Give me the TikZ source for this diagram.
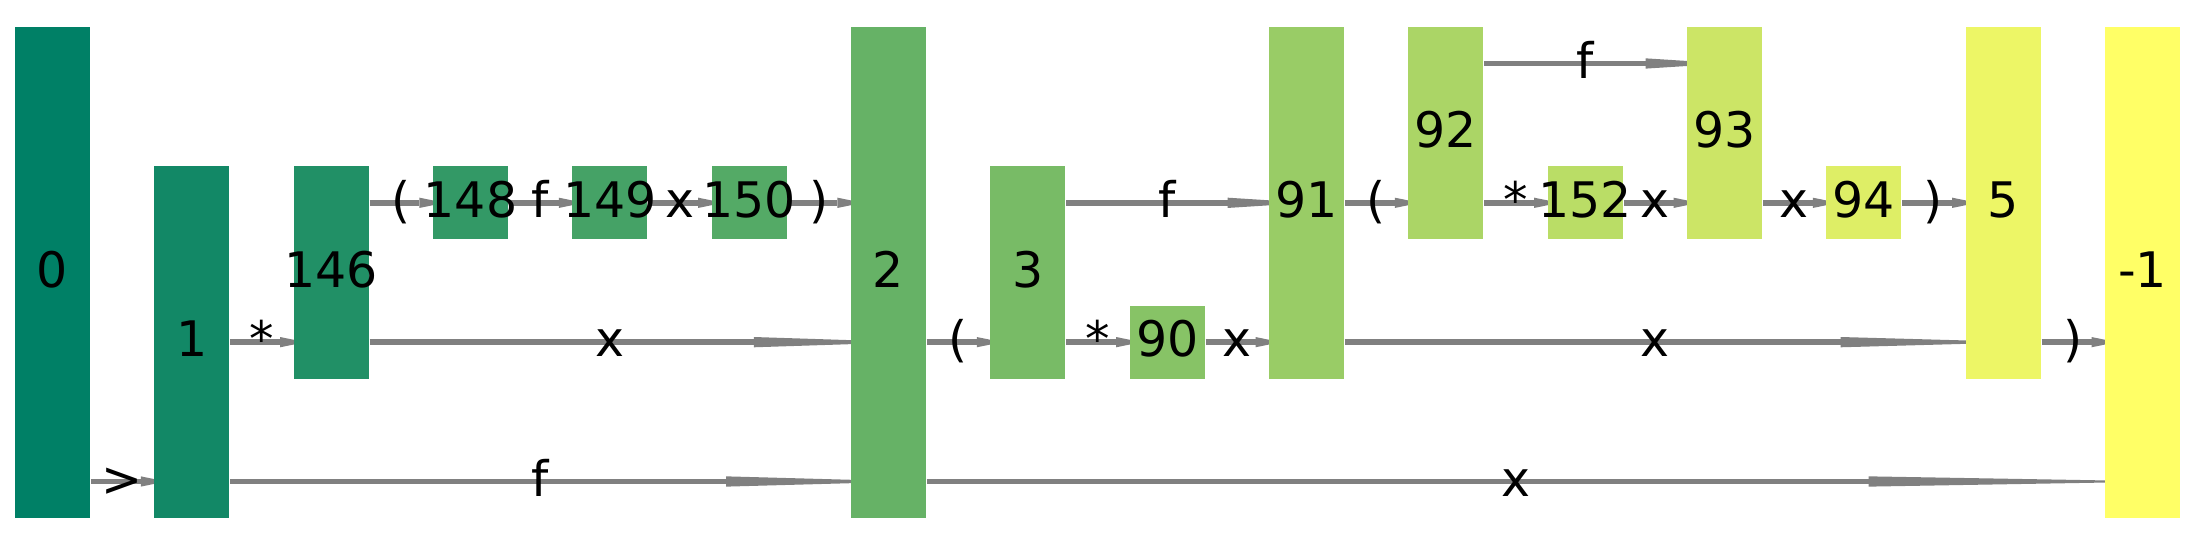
\documentclass[tikz,border=0pt]{standalone}
\usepackage{fontspec}
\setmainfont{DejaVu Sans}
\usetikzlibrary{arrows.meta,backgrounds}
\definecolor{sumlo}{rgb}{0,0.5,0.4}
\definecolor{sumhi}{rgb}{1,1,0.4}
\begin{document}
\begin{tikzpicture}[
    font=\fontsize{10pt}{12pt}\selectfont,
    blk/.style={rectangle, inner sep=0pt, minimum width=0.538cm, text height=0.9em, text depth=0.3em},
    lbl/.style={inner sep=0pt, text height=0.9em, text depth=0.3em},
    flow/.style={draw=gray, line width=1.1pt,
        /utils/exec={\pgfmathsetlengthmacro\tipext{min(#1,0.45cm)}\pgfmathsetlengthmacro\tiplen{#1+\tipext}},
        -{Triangle[length=\tiplen, width=2.1pt, line width=0pt]}, shorten >=-\tipext},
    flow/.default=0.09cm]
\useasboundingbox (-0.3766,0.4557) rectangle (15.3766,-3.4557);
% rows of the wires
\foreach \r in {0,...,3} \coordinate (r\r) at (0,-\r);
% blocks: name/column/first row/last row/label
\foreach \nm/\col/\ra/\rb/\txt in {b0/0/0/3/0, b1/1/1/3/1, b146/2/1/2/146, b148/3/1/1/148,
    b149/4/1/1/149, b150/5/1/1/150, b2/6/0/3/2, b3/7/1/2/3, b90/8/2/2/90, b91/9/0/2/91,
    b92/10/0/1/92, b152/11/1/1/152, b93/12/0/1/93, b94/13/1/1/94, b5/14/0/2/5, bm1/15/0/3/-1}{
  \pgfmathtruncatemacro\pct{round(\col*100/15)}
  \pgfmathsetmacro\hgt{0.525+\rb-\ra}
  \node[blk, fill=sumhi!\pct!sumlo, minimum height=\hgt cm] (\nm) at (\col,{-(\ra+\rb)/2}) {\makebox[0pt]{\txt}};
}
\begin{scope}[on background layer]
    % bottom wire
    \path (b0.east |- r3) edge[flow] node[lbl, midway] {>} (b1.west |- r3);
    \path (b1.east |- r3) edge[flow=0.89cm] node[lbl, midway] {f} (b2.west |- r3);
    \path (b2.east |- r3) edge[flow=1.69cm] node[lbl, midway] {x} (bm1.west |- r3);
    % second wire
    \path (b1.east |- r2) edge[flow] node[lbl, midway] {*} (b146.west |- r2);
    \path (b146.east |- r2) edge[flow=0.69cm] node[lbl, midway] {x} (b2.west |- r2);
    \path (b2.east |- r2) edge[flow] node[lbl, midway] {(} (b3.west |- r2);
    \path (b3.east |- r2) edge[flow] node[lbl, midway] {*} (b90.west |- r2);
    \path (b90.east |- r2) edge[flow] node[lbl, midway] {x} (b91.west |- r2);
    \path (b91.east |- r2) edge[flow=0.89cm] node[lbl, midway] {x} (b5.west |- r2);
    \path (b5.east |- r2) edge[flow] node[lbl, midway] {)} (bm1.west |- r2);
    % third wire
    \path (b146.east |- r1) edge[flow] node[lbl, midway] {(} (b148.west |- r1);
    \path (b148.east |- r1) edge[flow] node[lbl, midway] {f} (b149.west |- r1);
    \path (b149.east |- r1) edge[flow] node[lbl, midway] {x} (b150.west |- r1);
    \path (b150.east |- r1) edge[flow] node[lbl, midway] {)} (b2.west |- r1);
    \path (b3.east |- r1) edge[flow=0.29cm] node[lbl, midway] {f} (b91.west |- r1);
    \path (b91.east |- r1) edge[flow] node[lbl, midway] {(} (b92.west |- r1);
    \path (b92.east |- r1) edge[flow] node[lbl, midway] {*} (b152.west |- r1);
    \path (b152.east |- r1) edge[flow] node[lbl, midway] {x} (b93.west |- r1);
    \path (b93.east |- r1) edge[flow] node[lbl, midway] {x} (b94.west |- r1);
    \path (b94.east |- r1) edge[flow] node[lbl, midway] {)} (b5.west |- r1);
    % top wire
    \path (b92.east |- r0) edge[flow=0.29cm] node[lbl, midway] {f} (b93.west |- r0);
\end{scope}
\end{tikzpicture}
\end{document}
